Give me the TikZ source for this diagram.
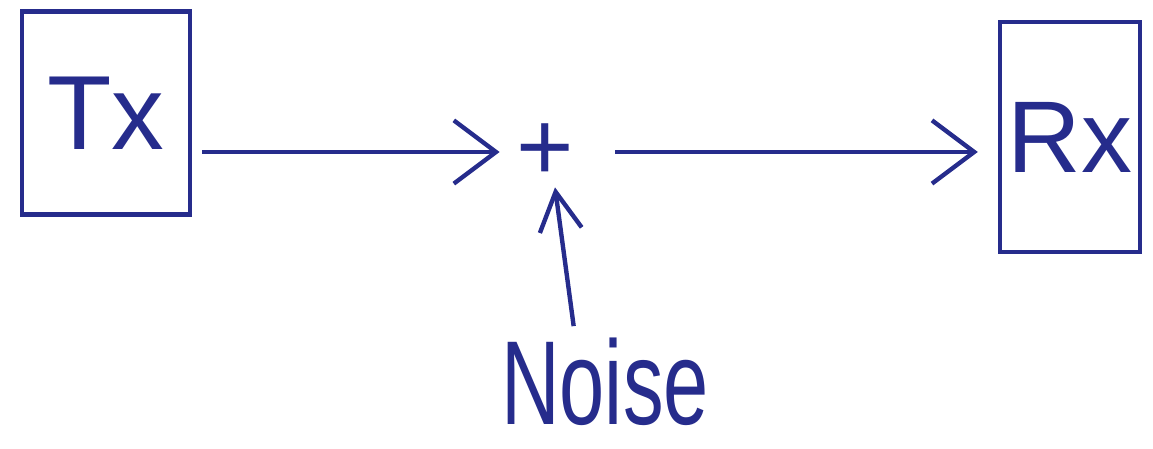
\documentclass[tikz,border=0pt]{standalone}
\usepackage{fontspec}
\usepackage{graphicx}
\setmainfont{Liberation Sans}
\usetikzlibrary{arrows.meta}
\definecolor{pen}{RGB}{38,44,140}
\tikzset{
  unit/.style={draw, line width=2.5pt, minimum width=3.36cm, minimum height=4.06cm,
    font=\fontsize{60}{60}\selectfont},
  arr/.style={-{Straight Barb[length=24pt,width=36pt]}, line width=2.5pt},
}
\begin{document}
\begin{tikzpicture}[x=0.02cm, y=-0.02cm, pen]
\useasboundingbox (0,0) rectangle (1153,449);
% blocks
\node[unit] (tx) at (106,113) {Tx};
\node[unit, minimum width=2.8cm, minimum height=4.6cm,
  font=\fontsize{58}{58}\selectfont] (rx) at (1070,137) {Rx};
\node[minimum width=1.8cm, minimum height=1.4cm,
  font=\fontsize{56}{56}\selectfont] (plus) at (545,152) {+};
\node[inner sep=1pt, font=\fontsize{68}{68}\selectfont] (noise) at (605,382) {\scalebox{0.68}[1]{Noise}};
% signal path
\draw[arr, shorten <=0.2cm] (tx.east |- plus.west) -- (plus.west);
\draw[arr, shorten <=0.5cm, shorten >=0.4cm] (plus.east) -- (rx.west |- plus.east);
\draw[arr, -{Straight Barb[length=22pt,width=24pt]}, shorten <=0.2cm] ([xshift=-0.6cm]noise.north) -- ([xshift=0.2cm]plus.south);
\end{tikzpicture}
\end{document}
